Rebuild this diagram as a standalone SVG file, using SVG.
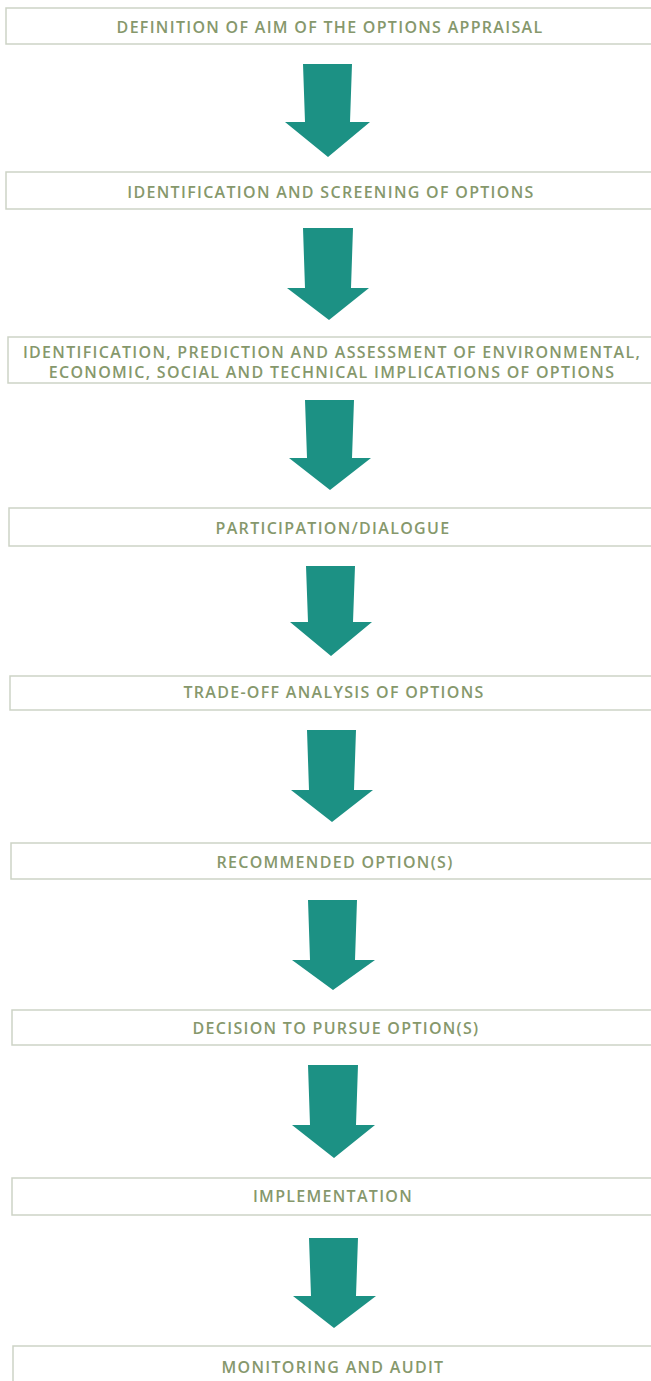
<svg xmlns="http://www.w3.org/2000/svg" width="651" height="1381" viewBox="0 0 651 1381">
<style>
.box{fill:#ffffff;stroke:#cdd3c6;stroke-width:1.5}
.lbl{font-family:"Open Sans",Lato,"Liberation Sans",sans-serif;font-weight:600;font-size:16px;fill:#86986c;text-anchor:middle;letter-spacing:1.3px}
.arr{fill:#1c9184}
</style>
<rect width="651" height="1381" fill="#ffffff"/>
<g id="connectors">
<path class="arr" d="M303,64 L352,64 L350,122 L370,122 L328,157 L285,122 L305,122 Z"/>
<path class="arr" d="M303,228 L353,228 L351,288 L369,288 L329,320 L287,288 L305,288 Z"/>
<path class="arr" d="M305,400 L354,400 L352,458 L371,458 L330,490 L289,458 L307,458 Z"/>
<path class="arr" d="M306,566 L355,566 L353,622 L372,622 L331,656 L290,622 L308,622 Z"/>
<path class="arr" d="M307,730 L356,730 L354,790 L373,790 L332,822 L291,790 L309,790 Z"/>
<path class="arr" d="M308,900 L357,900 L355,960 L375,960 L333,990 L292,960 L310,960 Z"/>
<path class="arr" d="M308,1065 L358,1065 L356,1125 L375,1125 L334,1158 L292,1125 L310,1125 Z"/>
<path class="arr" d="M309,1238 L358,1238 L356,1296 L376,1296 L334,1328 L293,1296 L311,1296 Z"/>
</g>
<g id="n1"><rect class="box" x="6" y="8" width="660" height="36"/><text class="lbl" x="330" y="33">DEFINITION OF AIM OF THE OPTIONS APPRAISAL</text></g>
<g id="n2"><rect class="box" x="6" y="172" width="660" height="37"/><text class="lbl" x="331" y="198">IDENTIFICATION AND SCREENING OF OPTIONS</text></g>
<g id="n3"><rect class="box" x="8" y="337" width="660" height="46"/><text class="lbl" x="332" y="358">IDENTIFICATION, PREDICTION AND ASSESSMENT OF ENVIRONMENTAL,</text><text class="lbl" x="332" y="378">ECONOMIC, SOCIAL AND TECHNICAL IMPLICATIONS OF OPTIONS</text></g>
<g id="n4"><rect class="box" x="9" y="508" width="660" height="38"/><text class="lbl" x="333" y="534">PARTICIPATION/DIALOGUE</text></g>
<g id="n5"><rect class="box" x="10" y="676" width="660" height="34"/><text class="lbl" x="334" y="698">TRADE-OFF ANALYSIS OF OPTIONS</text></g>
<g id="n6"><rect class="box" x="11" y="843" width="660" height="36"/><text class="lbl" x="335" y="868">RECOMMENDED OPTION(S)</text></g>
<g id="n7"><rect class="box" x="12" y="1010" width="660" height="35"/><text class="lbl" x="336" y="1034">DECISION TO PURSUE OPTION(S)</text></g>
<g id="n8"><rect class="box" x="12" y="1178" width="660" height="37"/><text class="lbl" x="333" y="1202">IMPLEMENTATION</text></g>
<g id="n9"><rect class="box" x="13" y="1346" width="660" height="50"/><text class="lbl" x="333" y="1373">MONITORING AND AUDIT</text></g>
</svg>
